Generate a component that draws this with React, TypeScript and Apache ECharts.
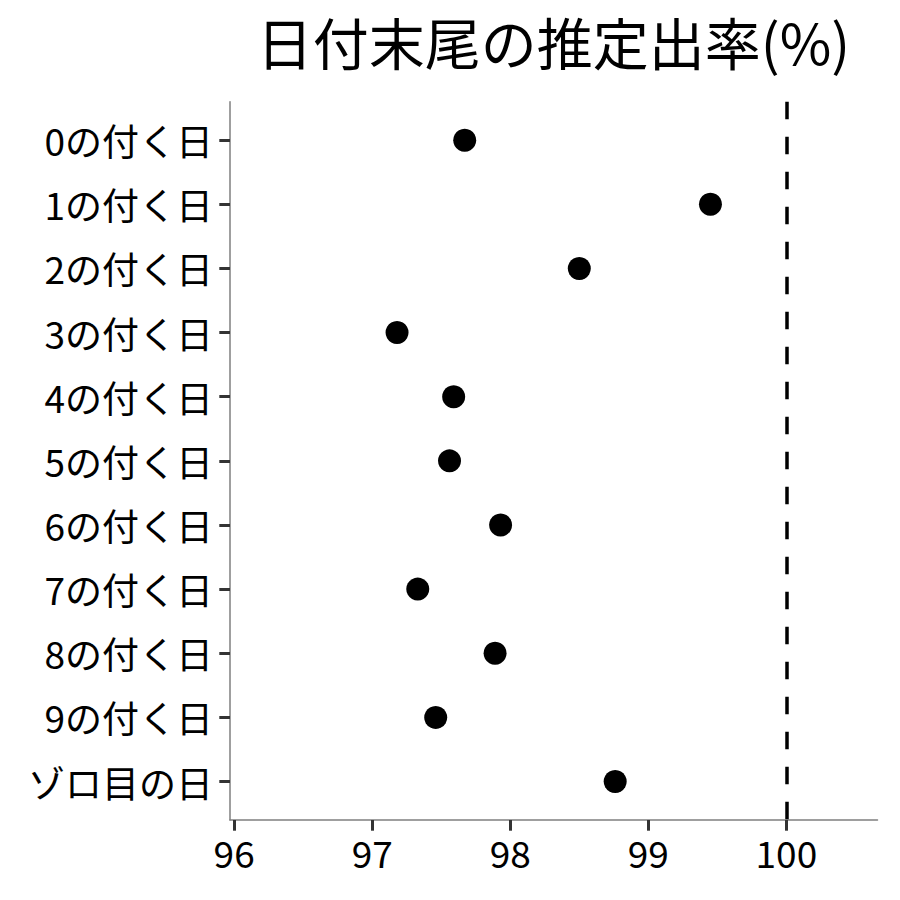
import React, { useEffect, useRef } from 'react';
import * as echarts from 'echarts';

const categories = [
  '0の付く日',
  '1の付く日',
  '2の付く日',
  '3の付く日',
  '4の付く日',
  '5の付く日',
  '6の付く日',
  '7の付く日',
  '8の付く日',
  '9の付く日',
  'ゾロ目の日',
];
const rates = [97.67, 99.45, 98.5, 97.18, 97.59, 97.56, 97.93, 97.33, 97.89, 97.46, 98.76];
const xTicks = [96, 97, 98, 99, 100];
const refLine = 100;
const titleText = '日付末尾の推定出率(%)';

const FONT = '"Noto Sans CJK JP", "Noto Sans", sans-serif';

export default function App() {
  const elRef = useRef<HTMLDivElement | null>(null);

  useEffect(() => {
    if (!elRef.current) return;
    const chart = echarts.init(elRef.current, undefined, { renderer: 'svg' });
    const yIdx = categories.map((_, i) => i);

    const opt: echarts.EChartsOption = {
      animation: false,
      backgroundColor: '#ffffff',
      textStyle: { fontFamily: FONT },
      grid: { left: 230, right: 22.5, top: 101.7, bottom: 80 },
      graphic: [
        {
          type: 'text',
          x: 553.5,
          y: 40,
          style: {
            text: titleText,
            fontFamily: FONT,
            fontSize: 56,
            fill: '#000000',
            textAlign: 'center',
            textVerticalAlign: 'middle',
          },
        },
      ],
      xAxis: {
        type: 'value',
        min: 95.97,
        max: 100.66,
        splitLine: { show: false },
        axisLine: { show: true, onZero: false, lineStyle: { color: '#7f7f7f', width: 1.5 } },
        axisTick: {
          show: true,
          length: 10.7,
          customValues: xTicks,
          lineStyle: { color: '#333333', width: 3 },
        },
        axisLabel: {
          customValues: xTicks,
          fontSize: 37,
          color: '#000000',
          fontFamily: FONT,
          margin: 13,
        },
      },
      yAxis: {
        type: 'value',
        inverse: true,
        min: -0.6,
        max: 10.6,
        splitLine: { show: false },
        axisLine: { show: true, onZero: false, lineStyle: { color: '#7f7f7f', width: 1.5 } },
        axisTick: {
          show: true,
          length: 10.7,
          customValues: yIdx,
          lineStyle: { color: '#333333', width: 3 },
        },
        axisLabel: {
          customValues: yIdx,
          formatter: (v: number) => categories[Math.round(v)] ?? '',
          fontSize: 37,
          color: '#000000',
          fontFamily: FONT,
          margin: 17,
          padding: [0, 0, 10, 0],
        },
      },
      series: [
        {
          type: 'scatter',
          data: rates.map((r, i) => [r, i]),
          symbol: 'circle',
          symbolSize: 23,
          itemStyle: { color: '#000000', opacity: 1 },
          markLine: {
            silent: true,
            symbol: ['none', 'none'],
            label: { show: false },
            lineStyle: { color: '#000000', width: 3.5, type: [17.5, 17.5], opacity: 1 },
            data: [{ xAxis: refLine }],
          },
        },
      ],
    };

    chart.setOption(opt);
    return () => {
      chart.dispose();
    };
  }, []);

  return (
    <div
      ref={elRef}
      style={{ position: 'fixed', left: 0, top: 0, width: 900, height: 900, background: '#fff' }}
    />
  );
}
